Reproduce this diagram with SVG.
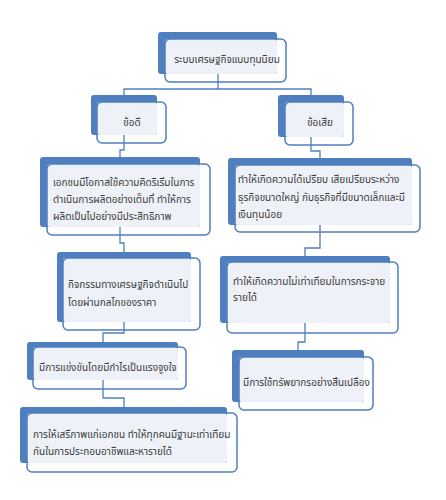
<svg xmlns="http://www.w3.org/2000/svg" width="446" height="500" viewBox="0 0 446 500">
<style>
.bk{fill:#4f7fbe}
.lt{fill:#eef2f8}
.ol{fill:none;stroke:#4f7fbe;stroke-width:1.5}
.cn{fill:none;stroke:#4f7fbe;stroke-width:1.3}
text{font-family:"Noto Sans Thai","Tahoma","Noto Sans","DejaVu Sans",sans-serif;font-size:10px;fill:#3a3a3a}
.c{text-anchor:middle}
</style>
<rect width="446" height="500" fill="#ffffff"/>
<g id="connectors">
<path class="cn" d="M218,74V89M124,95V89H311V95"/>
<path class="cn" d="M124,135V150H120V157"/>
<path class="cn" d="M120,227V243H124V252"/>
<path class="cn" d="M124,322V333H103V342"/>
<path class="cn" d="M103,380V398H124V407"/>
<path class="cn" d="M311,137V151H320V158"/>
<path class="cn" d="M320,225V248H305V256"/>
<path class="cn" d="M305,323V342H298V350"/>
</g>
<g id="n1">
<rect class="bk" x="158" y="32" width="119" height="42" rx="3"/>
<rect class="lt" x="165" y="39" width="112" height="35" rx="3"/>
<rect class="ol" x="165" y="39" width="121" height="43" rx="5"/>
<text class="c" x="227" y="63">ระบบเศรษฐกิจแบบทุนนิยม</text>
</g>
<g id="n2">
<rect class="bk" x="91" y="95" width="66" height="40" rx="3"/>
<rect class="lt" x="97" y="102" width="60" height="33" rx="3"/>
<rect class="ol" x="97" y="102" width="69" height="41" rx="5"/>
<text class="c" x="132" y="126">ข้อดี</text>
</g>
<g id="n3">
<rect class="bk" x="278" y="95" width="66" height="42" rx="3"/>
<rect class="lt" x="285" y="102" width="59" height="35" rx="3"/>
<rect class="ol" x="285" y="102" width="68" height="43" rx="5"/>
<text class="c" x="320" y="126">ข้อเสีย</text>
</g>
<g id="n4">
<rect class="bk" x="40" y="157" width="160" height="70" rx="3"/>
<rect class="lt" x="47" y="164" width="153" height="63" rx="3"/>
<rect class="ol" x="47" y="164" width="163" height="71" rx="5"/>
<text x="53" y="186">เอกชนมีโอกาสใช้ความคิดริเริ่มในการ</text>
<text x="53" y="203">ดำเนินการผลิตอย่างเต็มที่ ทำให้การ</text>
<text x="53" y="220">ผลิตเป็นไปอย่างมีประสิทธิภาพ</text>
</g>
<g id="n5">
<rect class="bk" x="228" y="158" width="184" height="67" rx="3"/>
<rect class="lt" x="235" y="165" width="177" height="60" rx="3"/>
<rect class="ol" x="235" y="165" width="185" height="67" rx="5"/>
<text x="238" y="183">ทำให้เกิดความได้เปรียบ เสียเปรียบระหว่าง</text>
<text x="238" y="201">ธุรกิจขนาดใหญ่ กับธุรกิจที่มีขนาดเล็กและมี</text>
<text x="238" y="218">เงินทุนน้อย</text>
</g>
<g id="n6">
<rect class="bk" x="57" y="252" width="134" height="70" rx="3"/>
<rect class="lt" x="63" y="258" width="128" height="64" rx="3"/>
<rect class="ol" x="63" y="258" width="137" height="72" rx="5"/>
<text x="68" y="288">กิจกรรมทางเศรษฐกิจดำเนินไป</text>
<text x="68" y="306">โดยผ่านกลไกของราคา</text>
</g>
<g id="n7">
<rect class="bk" x="220" y="256" width="170" height="67" rx="3"/>
<rect class="lt" x="227" y="262" width="163" height="61" rx="3"/>
<rect class="ol" x="227" y="262" width="171" height="71" rx="5"/>
<text x="233" y="285">ทำให้เกิดความไม่เท่าเทียมในการกระจาย</text>
<text x="233" y="301">รายได้</text>
</g>
<g id="n8">
<rect class="bk" x="27" y="342" width="151" height="38" rx="3"/>
<rect class="lt" x="33" y="347" width="145" height="33" rx="3"/>
<rect class="ol" x="33" y="347" width="153" height="42" rx="5"/>
<text x="39" y="371">มีการแข่งขันโดยมีกำไรเป็นแรงจูงใจ</text>
</g>
<g id="n9">
<rect class="bk" x="232" y="350" width="132" height="52" rx="3"/>
<rect class="lt" x="239" y="357" width="125" height="45" rx="3"/>
<rect class="ol" x="239" y="357" width="134" height="53" rx="5"/>
<text x="243" y="386">มีการใช้ทรัพยากรอย่างสิ้นเปลือง</text>
</g>
<g id="n10">
<rect class="bk" x="20" y="407" width="207" height="56" rx="3"/>
<rect class="lt" x="27" y="413" width="200" height="50" rx="3"/>
<rect class="ol" x="27" y="413" width="210" height="59" rx="5"/>
<text x="33" y="438">การให้เสรีภาพแก่เอกชน ทำให้ทุกคนมีฐานะเท่าเทียม</text>
<text x="33" y="455">กันในการประกอบอาชีพและหารายได้</text>
</g>
</svg>
